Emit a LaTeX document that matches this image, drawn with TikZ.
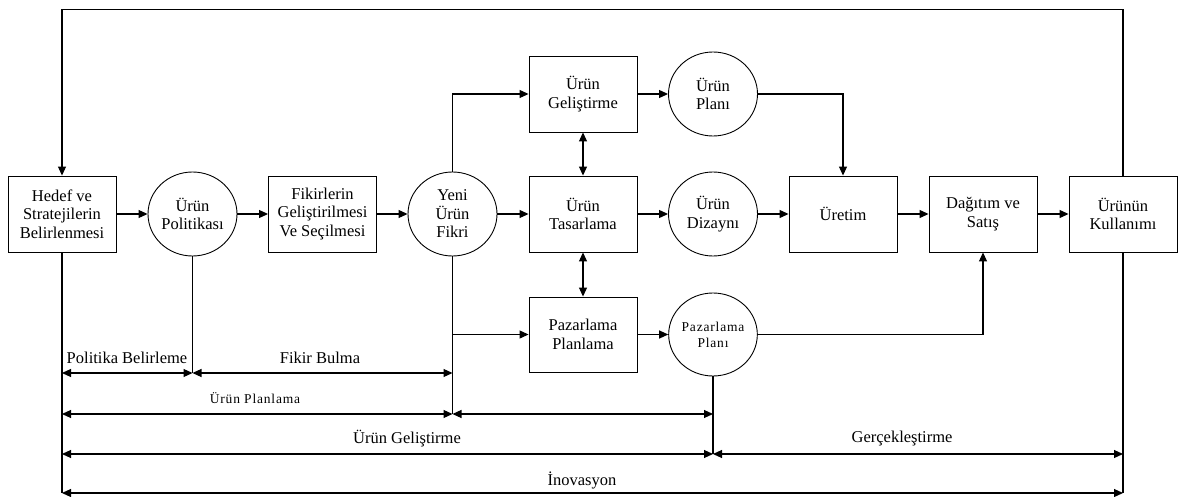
\documentclass[tikz,border=0pt]{standalone}
\usepackage{fontspec}
\setmainfont{Liberation Serif}
\newfontfamily\spacedserif[LetterSpace=6]{Liberation Serif}
\usetikzlibrary{arrows.meta,shapes.geometric,calc}
\begin{document}
\begin{tikzpicture}[x=1pt,y=-1pt,
  font=\fontsize{16.5}{18.5}\selectfont,
  tip/.tip={Triangle[length=9pt,width=8pt]},
  box/.style={draw,line width=0.9pt,rectangle,minimum width=108pt,minimum height=76pt,align=center,inner sep=1pt},
  oval/.style={draw,line width=0.9pt,ellipse,minimum width=89pt,minimum height=84pt,align=center,inner sep=0pt},
  link/.style={line width=1.1pt,-tip},
  both/.style={line width=1.1pt,tip-tip},
  plain/.style={line width=1.1pt},
  small/.style={font=\spacedserif\fontsize{13.5}{16}\selectfont},
  lbl/.style={inner sep=0pt}]
\useasboundingbox (0,0) rectangle (1178,497);

% main process row
\node[box]  (hedef) at (62,214)    {Hedef ve\\Stratejilerin\\Belirlenmesi};
\node[oval] (pol)   at (192.5,214) {Ürün\\Politikası};
\node[box]  (fik)   at (322.5,214) {Fikirlerin\\Geliştirilmesi\\Ve Seçilmesi};
\node[oval] (yeni)  at (452.5,214) {Yeni\\Ürün\\Fikri};
\node[box]  (tas)   at (583,214)   {Ürün\\Tasarlama};
\node[oval] (diz)   at (713,214)   {Ürün\\Dizaynı};
\node[box]  (uret)  at (843,214)   {Üretim};
\node[box]  (dag)   at (983,214)   {Dağıtım ve\\Satış};
\node[box]  (kul)   at (1123,214)  {Ürünün\\Kullanımı};

% upper and lower branches
\node[box]  (gel)   at (583,94)    {Ürün\\Geliştirme};
\node[oval] (plan)  at (713,94)    {Ürün\\Planı};
\node[box,minimum height=75pt] (paz) at (583,334.5) {Pazarlama\\Planlama};
\node[oval,small,minimum width=88pt,minimum height=83pt] (pplan) at (713,334.5) {Pazarlama\\Planı};

% flow arrows
\draw[link] (hedef) -- (pol);
\draw[link] (pol) -- (fik);
\draw[link] (fik) -- (yeni);
\draw[link] (yeni) -- (tas);
\draw[link] (tas) -- (diz);
\draw[link] (diz) -- (uret);
\draw[link] (uret) -- (dag);
\draw[link] (dag) -- (kul);
\draw[link] (gel) -- (plan);
\draw[link] (paz) -- (pplan);
\draw[link] (yeni.north) |- (gel.west);
\draw[link] (plan.east) -| (uret.north);
\draw[link] (pplan.east) -| (dag.south);
\draw[both] (gel.south) -- (tas.north);
\draw[both] (tas.south) -- (paz.north);

% feedback loop over the top
\coordinate (top) at (1123,9.5);
\draw[link] (kul.north) -- (top) -| (hedef.north);

% phase boundaries
\coordinate (yb)  at (452.5,414);
\coordinate (ybr) at (452.5,334.5);
\coordinate (pb)  at (192.5,373);
\coordinate (hb)  at (62,493);
\coordinate (kb)  at (1123,493);
\coordinate (ppb) at (713,454);
\draw[plain] (hedef.south) -- (hb);
\draw[plain] (kul.south) -- (kb);
\draw[plain] (pol.south) -- (pb);
\draw[plain] (yeni.south) -- (yb);
\draw[plain] (pplan.south) -- (ppb);
\draw[link] (ybr) -- (paz.west);

% phase spans
\coordinate (a1) at (62,373);
\coordinate (a2) at (62,414);
\coordinate (a3) at (62,454);
\coordinate (b2) at (713,414);
\coordinate (c3) at (1123,454);
\coordinate (b1) at (452.5,373);

\draw[both] (a1) -- (pb);
\draw[both] (pb) -- (b1);
\draw[both] (a2) -- (yb);
\draw[both] (yb) -- (b2);
\draw[both] (a3) -- (ppb);
\draw[both] (ppb) -- (c3);
\draw[both] (hb) -- (kb);

\node[lbl] (l1) at (127,358) {Politika Belirleme};
\node[lbl] (l2) at (320,358) {Fikir Bulma};
\node[lbl,small] (l3) at (255,398) {Ürün Planlama};
\node[lbl] (l4) at (407,439) {Ürün Geliştirme};
\node[lbl] (l5) at (902,439) {Gerçekleştirme};
\node[lbl] (l6) at (582,480) {İnovasyon};
\end{tikzpicture}
\end{document}
